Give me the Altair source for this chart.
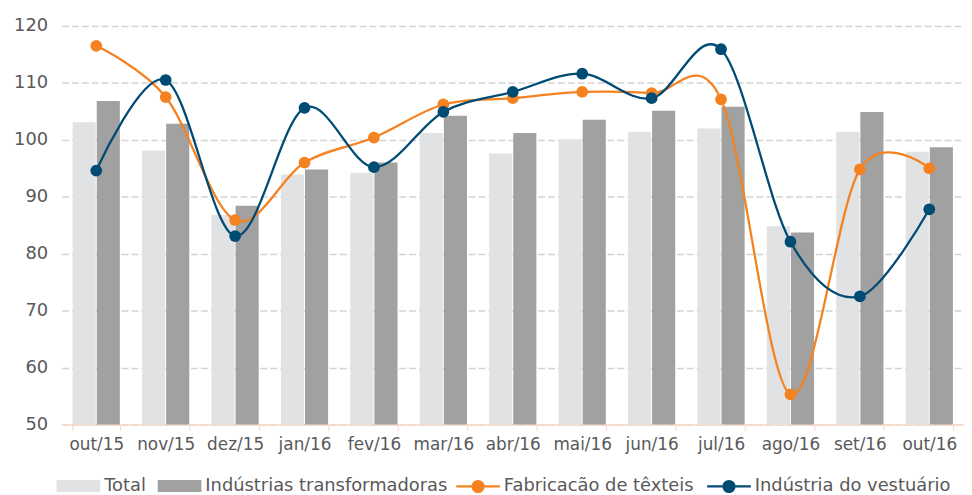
import altair as alt
import pandas as pd

months = ["out/15", "nov/15", "dez/15", "jan/16", "fev/16", "mar/16", "abr/16",
          "mai/16", "jun/16", "jul/16", "ago/16", "set/16", "out/16"]
total = [103.1, 98.1, 86.8, 93.9, 94.2, 101.2, 97.6, 100.1, 101.4, 102.0, 84.8, 101.4, 97.9]
transf = [106.8, 102.8, 88.4, 94.8, 96.0, 104.2, 101.2, 103.5, 105.1, 105.8, 83.7, 104.9, 98.7]
texteis = [116.5, 107.5, 85.9, 96.0, 100.4, 106.2, 107.3, 108.4, 108.2, 107.1, 55.3, 94.8, 95.0]
vestuario = [94.6, 110.5, 83.1, 105.6, 95.2, 104.9, 108.4, 111.6, 107.3, 115.9, 82.1, 72.5, 87.8]

bar_names = ["Total", "Indústrias transformadoras"]
line_names = ["Fabricacão de têxteis", "Indústria do vestuário"]
bar_colors = ["#E1E2E4", "#A0A1A0"]
line_colors = ["#F58220", "#004B74"]

bars_df = pd.DataFrame({
    "mes": months * 2,
    "serie": [bar_names[0]] * len(months) + [bar_names[1]] * len(months),
    "valor": total + transf,
})
lines_df = pd.DataFrame({
    "mes": months * 2,
    "serie": [line_names[0]] * len(months) + [line_names[1]] * len(months),
    "valor": texteis + vestuario,
})

FONT = "DejaVu Sans"
TXT = "#595959"
bar_sym = "M-3.667,-1H3.667V1H-3.667Z"
line_sym = ("M-3.667,0H3.667M0.917,0A0.917,0.917,0,1,1,-0.917,0"
            "A0.917,0.917,0,1,1,0.917,0Z")

xscale = alt.Scale(domain=months, paddingInner=0.32, paddingOuter=0.16)
yscale = alt.Scale(domain=[50, 120], nice=False, zero=False)

x_enc = alt.X("mes:N", scale=xscale, sort=months,
              axis=alt.Axis(title=None, labelAngle=0, labelFont=FONT, labelFontSize=17,
                            labelColor=TXT, domainColor="#F8D8C4", tickColor="#F8D8C4",
                            tickSize=6, tickBand="extent", labelPadding=6, domainWidth=1.5,
                            grid=False))
y_enc = alt.Y("valor:Q", scale=yscale,
              axis=alt.Axis(title=None, values=list(range(50, 121, 10)), labelFont=FONT,
                            labelFontSize=18, labelColor=TXT, domain=False, ticks=False,
                            grid=True, gridDash=[7, 3], gridColor="#D4D4D4", gridWidth=1.5,
                            labelPadding=14))

bar_legend = alt.Legend(title=None, orient="none", legendX=-8, legendY=455,
                        direction="horizontal", symbolType=bar_sym, symbolSize=144,
                        symbolStrokeWidth=0, symbolOffset=16, labelOffset=17,
                        labelFont=FONT, labelFontSize=18, labelColor=TXT,
                        columnPadding=8, padding=0, labelLimit=500)
line_legend = alt.Legend(title=None, orient="none", legendX=395, legendY=455,
                         direction="horizontal", symbolType=line_sym, symbolSize=144,
                         symbolStrokeWidth=2.3, symbolOffset=16, labelOffset=17,
                         labelFont=FONT, labelFontSize=18, labelColor=TXT,
                         columnPadding=8, padding=0, labelLimit=500)

bars = alt.Chart(bars_df).mark_bar().encode(
    x=x_enc,
    xOffset=alt.XOffset("serie:N", scale=alt.Scale(domain=bar_names, paddingInner=0.04),
                        sort=bar_names),
    y=y_enc,
    y2=alt.datum(50),
    fill=alt.Fill("serie:N", scale=alt.Scale(domain=bar_names, range=bar_colors),
                  legend=bar_legend),
)

base = alt.Chart(lines_df)
lines = base.mark_line(interpolate="cardinal", strokeWidth=2.3).encode(
    x=x_enc, y=y_enc,
    stroke=alt.Stroke("serie:N", scale=alt.Scale(domain=line_names, range=line_colors),
                      legend=line_legend),
)
points = base.mark_circle(size=140, opacity=1).encode(
    x=x_enc, y=y_enc,
    color=alt.Color("serie:N", scale=alt.Scale(domain=line_names, range=line_colors),
                    legend=line_legend),
)

chart = alt.layer(bars, lines, points).properties(
    width=910, height=402,
    padding={"left": 54, "top": 16, "right": 0, "bottom": 69},
    autosize=alt.AutoSizeParams(type="none"),
).configure_view(stroke=None)

chart.save("out.html", embed_options={"renderer": "svg", "actions": False})
